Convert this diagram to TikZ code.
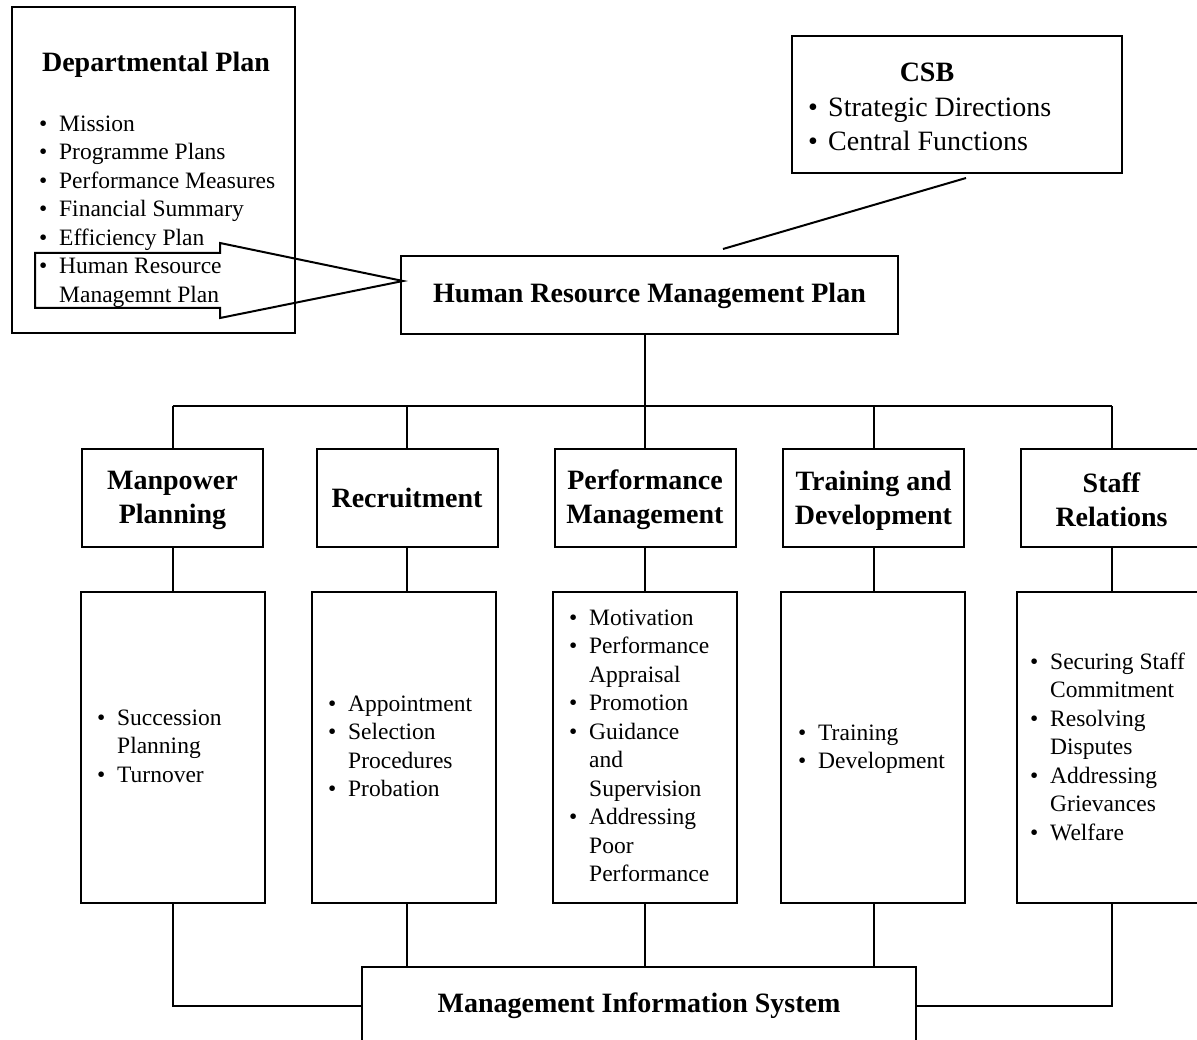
\documentclass[tikz,border=0pt]{standalone}
\usepackage{fontspec}
\setmainfont{Liberation Serif}
\newcommand\vs[1]{\rule[-#1]{0pt}{\dimexpr 24pt+#1\relax}}
\newcommand\bi[1]{\strut\makebox[20pt][l]{\textbullet}#1}
\newcommand\ci[1]{\strut\hspace*{20pt}#1}
\begin{document}
\begin{tikzpicture}[x=1pt,y=-1pt,
  bx/.style={draw, line width=2pt, inner sep=0pt, align=center, font=\fontsize{28}{34}\selectfont\bfseries},
  hd/.style={inner sep=0pt, align=center, font=\fontsize{28}{34}\selectfont\bfseries},
  lst/.style={inner sep=0pt, align=left, anchor=north west, font=\fontsize{23.5}{28.5}\selectfont},
  lstb/.style={inner sep=0pt, align=left, anchor=north west, font=\fontsize{28}{34}\selectfont},
  catbox/.style={bx, minimum width=181pt, minimum height=98pt},
  detbox/.style={bx, minimum width=184pt, minimum height=311pt},
  ln/.style={line width=2pt}]
\useasboundingbox (0,0) rectangle (1197,1040);

% Departmental plan
\node[bx, minimum width=283pt, minimum height=326pt] (dp) at (153.5,170) {};
\node[hd] (dph) at (156,62.8) {\vs{5pt}Departmental Plan};
\node[lst] (dpl) at (39,111) {\bi{Mission}\\ \bi{Programme Plans}\\ \bi{Performance Measures}\\ \bi{Financial Summary}\\ \bi{Efficiency Plan}\\ \bi{Human Resource}\\ \ci{Managemnt Plan}};

% CSB
\node[bx, minimum width=330pt, minimum height=137pt] (csb) at (957,104.5) {};
\node[hd] (csbh) at (927,71.8) {\vs{5pt}CSB};
\node[lstb] (csbl) at (808,92.5) {\bi{Strategic Directions}\\ \bi{Central Functions}};

% HRMP
\node[bx, minimum width=497pt, minimum height=78pt] (hrmp) at (649.5,295) {\vs{9.4pt}Human Resource Management Plan};

% big arrow
\draw[ln] (35,253) -- (220,253) -- (220,243) -- (403,281) -- (220,318) -- (220,308) -- (35,308) -- cycle;

% CSB connector
\coordinate (ca) at (966,178);
\coordinate (cb) at (723,249);
\draw[ln] (ca) -- (cb);

% category boxes
\node[catbox] (mpc) at (172.5,498) {\vs{5pt}Manpower\\\vs{5pt}Planning};
\node[catbox] (rcc) at (407,498) {\vs{5pt}Recruitment};
\node[catbox] (pmc) at (645,498) {\vs{5pt}Performance\\\vs{5pt}Management};
\node[catbox] (tdc) at (873.5,498) {\vs{5pt}Training and\\\vs{5pt}Development};
\node[catbox] (src) at (1111.5,498) {\vs{0pt}Staff\\\vs{0pt}Relations};

% detail boxes
\node[detbox] (mpd) at (172.5,747.5) {};
\node[detbox] (rcd) at (404,747.5) {};
\node[detbox] (pmd) at (645,747.5) {};
\node[detbox] (tdd) at (873,747.5) {};
\node[detbox] (srd) at (1109,747.5) {};

\node[lst] (mpl) at (97,705) {\bi{Succession}\\ \ci{Planning}\\ \bi{Turnover}};
\node[lst] (rcl) at (328,691) {\bi{Appointment}\\ \bi{Selection}\\ \ci{Procedures}\\ \bi{Probation}};
\node[lst] (pml) at (569,605) {\bi{Motivation}\\ \bi{Performance}\\ \ci{Appraisal}\\ \bi{Promotion}\\ \bi{Guidance}\\ \ci{and}\\ \ci{Supervision}\\ \bi{Addressing}\\ \ci{Poor}\\ \ci{Performance}};
\node[lst] (tdl) at (798,720) {\bi{Training}\\ \bi{Development}};
\node[lst] (srl) at (1030,649) {\bi{Securing Staff}\\ \ci{Commitment}\\ \bi{Resolving}\\ \ci{Disputes}\\ \bi{Addressing}\\ \ci{Grievances}\\ \bi{Welfare}};

% MIS
\node[bx, minimum width=554pt, minimum height=78pt] (mis) at (639,1006) {\vs{11pt}Management Information System};

% bus
\coordinate (busL) at (172.5,406);
\coordinate (busR) at (1111.5,406);
\draw[ln] (busL) -- (busR);
\draw[ln] (hrmp.south -| pmc.north) -- (pmc.north |- busL);
\foreach \n in {mpc,rcc,pmc,tdc,src} \draw[ln] (\n.north) -- (\n.north |- busL);

% category to detail
\draw[ln] (mpc.south) -- (mpc.south |- mpd.north);
\draw[ln] (rcc.south) -- (rcc.south |- rcd.north);
\draw[ln] (pmc.south) -- (pmc.south |- pmd.north);
\draw[ln] (tdc.south) -- (tdc.south |- tdd.north);
\draw[ln] (src.south) -- (src.south |- srd.north);

% detail to MIS
\draw[ln] (rcc.south |- rcd.south) -- (rcc.south |- mis.north);
\draw[ln] (pmc.south |- pmd.south) -- (pmc.south |- mis.north);
\draw[ln] (tdc.south |- tdd.south) -- (tdc.south |- mis.north);
\draw[ln] (mpc.south |- mpd.south) |- (mis.west);
\draw[ln] (src.south |- srd.south) |- (mis.east);
\end{tikzpicture}
\end{document}
